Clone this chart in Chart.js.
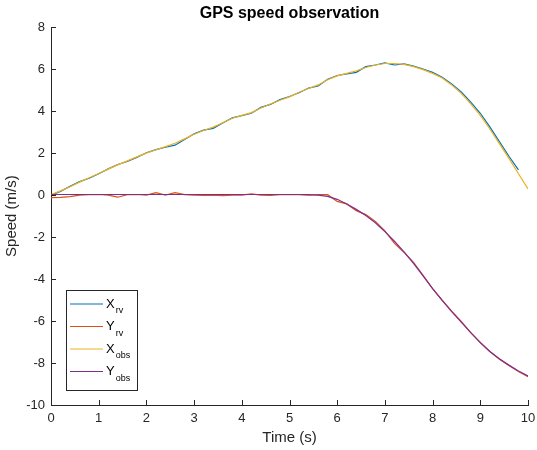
<!DOCTYPE html>
<html>
<head>
<meta charset="utf-8">
<script src="https://cdn.jsdelivr.net/npm/chart.js@4.4.1/dist/chart.umd.min.js"></script>
<style>
  html, body { margin: 0; padding: 0; background: #fff; }
  #wrap { width: 537px; height: 450px; }
</style>
</head>
<body>
<div id="wrap"><canvas id="speedChart" width="537" height="450"></canvas></div>
<script>
// time stamps (s)
const tempo = [0, 0.2, 0.4, 0.6, 0.8, 1.0, 1.2, 1.4, 1.6, 1.8,
  2.0, 2.2, 2.4, 2.6, 2.8, 3.0, 3.2, 3.4, 3.6, 3.8,
  4.0, 4.2, 4.4, 4.6, 4.8, 5.0, 5.2, 5.4, 5.6, 5.8,
  6.0, 6.2, 6.4, 6.6, 6.8, 7.0, 7.2, 7.4, 7.6, 7.8,
  8.0, 8.2, 8.4, 8.6, 8.8, 9.0, 9.2, 9.4, 9.6, 9.8, 10.0];

// velocidades (m/s)
const xRv = [0.0, 0.18, 0.42, 0.64, 0.8, 1.02, 1.25, 1.46, 1.6, 1.8,
  2.02, 2.17, 2.28, 2.38, 2.65, 2.92, 3.1, 3.18, 3.44, 3.68,
  3.79, 3.9, 4.18, 4.32, 4.55, 4.7, 4.88, 5.1, 5.2, 5.52,
  5.7, 5.78, 5.85, 6.12, 6.2, 6.3, 6.2, 6.25, 6.15, 6.0,
  5.85, 5.62, 5.3, 4.92, 4.43, 3.9, 3.25, 2.55, 1.85, 1.2, null];

const yRv = [-0.12, -0.11, -0.07, 0.0, 0.02, 0.03, 0.0, -0.1, 0.02, 0.03,
  0.0, 0.12, 0.0, 0.12, 0.02, 0.0, -0.01, 0.0, -0.02, 0.0,
  0.0, 0.06, 0.0, -0.01, 0.02, 0.03, 0.02, 0.0, 0.02, 0.02,
  -0.3, -0.42, -0.74, -0.93, -1.25, -1.7, -2.3, -2.72, -3.2, -3.82,
  -4.45, -5.0, -5.53, -6.02, -6.55, -7.02, -7.45, -7.82, -8.12, -8.4, -8.65];

const xObs = [0.02, 0.2, 0.4, 0.62, 0.83, 1.03, 1.24, 1.44, 1.63, 1.82,
  2.0, 2.16, 2.31, 2.47, 2.68, 2.9, 3.08, 3.24, 3.45, 3.66,
  3.8, 3.93, 4.15, 4.34, 4.52, 4.68, 4.9, 5.08, 5.25, 5.5,
  5.68, 5.8, 5.92, 6.08, 6.2, 6.27, 6.27, 6.23, 6.12, 5.98,
  5.8, 5.58, 5.25, 4.85, 4.35, 3.8, 3.15, 2.45, 1.75, 1.02, 0.3];

const yObs = [0.03, 0.03, 0.03, 0.03, 0.03, 0.03, 0.03, 0.03, 0.03, 0.03,
  0.03, 0.03, 0.03, 0.03, 0.03, 0.03, 0.03, 0.03, 0.03, 0.03,
  0.03, 0.03, 0.03, 0.03, 0.03, 0.03, 0.03, 0.02, 0.0, -0.06,
  -0.2, -0.42, -0.68, -0.97, -1.32, -1.74, -2.2, -2.7, -3.25, -3.85,
  -4.45, -5.02, -5.55, -6.05, -6.55, -7.03, -7.45, -7.8, -8.1, -8.38, -8.62];

const nomes = ['X', 'Y', 'X', 'Y'];
const subs = ['rv', 'rv', 'obs', 'obs'];
const cores = ['#0072BD', '#D95319', '#EDB120', '#7E2F8E'];

const pts = arr => tempo.map((t, i) => ({x: t, y: arr[i]}));
const eixoCor = '#262626';
const fonte = "'Liberation Sans', Arial, sans-serif";

// ticks para dentro, estilo matlab
const ticksDentro = {
  id: 'ticksDentro',
  afterDraw(chart) {
    const {ctx, chartArea: a, scales} = chart;
    ctx.save();
    ctx.strokeStyle = eixoCor;
    ctx.lineWidth = 1;
    ctx.beginPath();
    scales.x.ticks.forEach(t => {
      const px = Math.round(scales.x.getPixelForValue(t.value)) + 0.5;
      ctx.moveTo(px, a.bottom);
      ctx.lineTo(px, a.bottom - 5);
    });
    scales.y.ticks.forEach(t => {
      const py = Math.round(scales.y.getPixelForValue(t.value)) + 0.5;
      ctx.moveTo(a.left, py);
      ctx.lineTo(a.left + 5, py);
    });
    ctx.stroke();
    ctx.restore();
  }
};

// legenda com subscrito
const legendaSub = {
  id: 'legendaSub',
  afterDraw(chart) {
    const {ctx, chartArea: a} = chart;
    const w = 71, h = 100;
    const x0 = a.left + 15, y0 = a.bottom - 15 - h;
    ctx.save();
    ctx.fillStyle = '#fff';
    ctx.fillRect(x0, y0, w, h);
    ctx.strokeStyle = eixoCor;
    ctx.lineWidth = 1;
    ctx.strokeRect(x0 + 0.5, y0 + 0.5, w, h);
    nomes.forEach((n, i) => {
      const cy = y0 + 14 + i * 22.5;
      ctx.strokeStyle = cores[i];
      ctx.lineWidth = 1.2;
      ctx.beginPath();
      ctx.moveTo(x0 + 4, cy);
      ctx.lineTo(x0 + 37, cy);
      ctx.stroke();
      ctx.fillStyle = '#000';
      ctx.textBaseline = 'middle';
      ctx.font = '13px ' + fonte;
      ctx.fillText(n, x0 + 40, cy);
      const wn = ctx.measureText(n).width;
      ctx.font = '9px ' + fonte;
      ctx.fillText(subs[i], x0 + 41 + wn, cy + 7);
    });
    ctx.restore();
  }
};

new Chart(document.getElementById('speedChart'), {
  type: 'line',
  data: {
    datasets: [
      {label: 'X_rv', data: pts(xRv), borderColor: cores[0], order: 4},
      {label: 'Y_rv', data: pts(yRv), borderColor: cores[1], order: 3},
      {label: 'X_obs', data: pts(xObs), borderColor: cores[2], order: 2},
      {label: 'Y_obs', data: pts(yObs), borderColor: cores[3], order: 1}
    ]
  },
  options: {
    responsive: false,
    animation: false,
    elements: {
      point: {radius: 0},
      line: {borderWidth: 1.2, tension: 0, fill: false}
    },
    layout: {padding: {left: 0, right: 0, top: 0, bottom: 0}},
    plugins: {
      legend: {display: false},
      tooltip: {enabled: false},
      title: {
        display: true,
        fullSize: false,
        text: 'GPS speed observation',
        color: '#000',
        font: {family: fonte, size: 16, weight: 'bold'},
        padding: {top: 4, bottom: 4}
      }
    },
    scales: {
      x: {
        type: 'linear',
        min: 0, max: 10,
        afterFit: s => { s.height = 45; s.paddingRight = 9; },
        grid: {display: false, drawTicks: false},
        border: {display: true, color: eixoCor, width: 1},
        ticks: {stepSize: 1, color: eixoCor, padding: 6, maxRotation: 0,
          font: {family: fonte, size: 13}},
        title: {display: true, text: 'Time (s)', color: eixoCor,
          font: {family: fonte, size: 15}, padding: {top: 0, bottom: 3}}
      },
      y: {
        min: -10, max: 8,
        afterFit: s => { s.width = 51; },
        grid: {display: false, drawTicks: false},
        border: {display: true, color: eixoCor, width: 1},
        ticks: {stepSize: 2, color: eixoCor, padding: 6,
          font: {family: fonte, size: 13}},
        title: {display: true, text: 'Speed (m/s)', color: eixoCor,
          font: {family: fonte, size: 15}, padding: {top: 3, bottom: 0}}
      }
    }
  },
  plugins: [ticksDentro, legendaSub]
});
</script>
</body>
</html>
